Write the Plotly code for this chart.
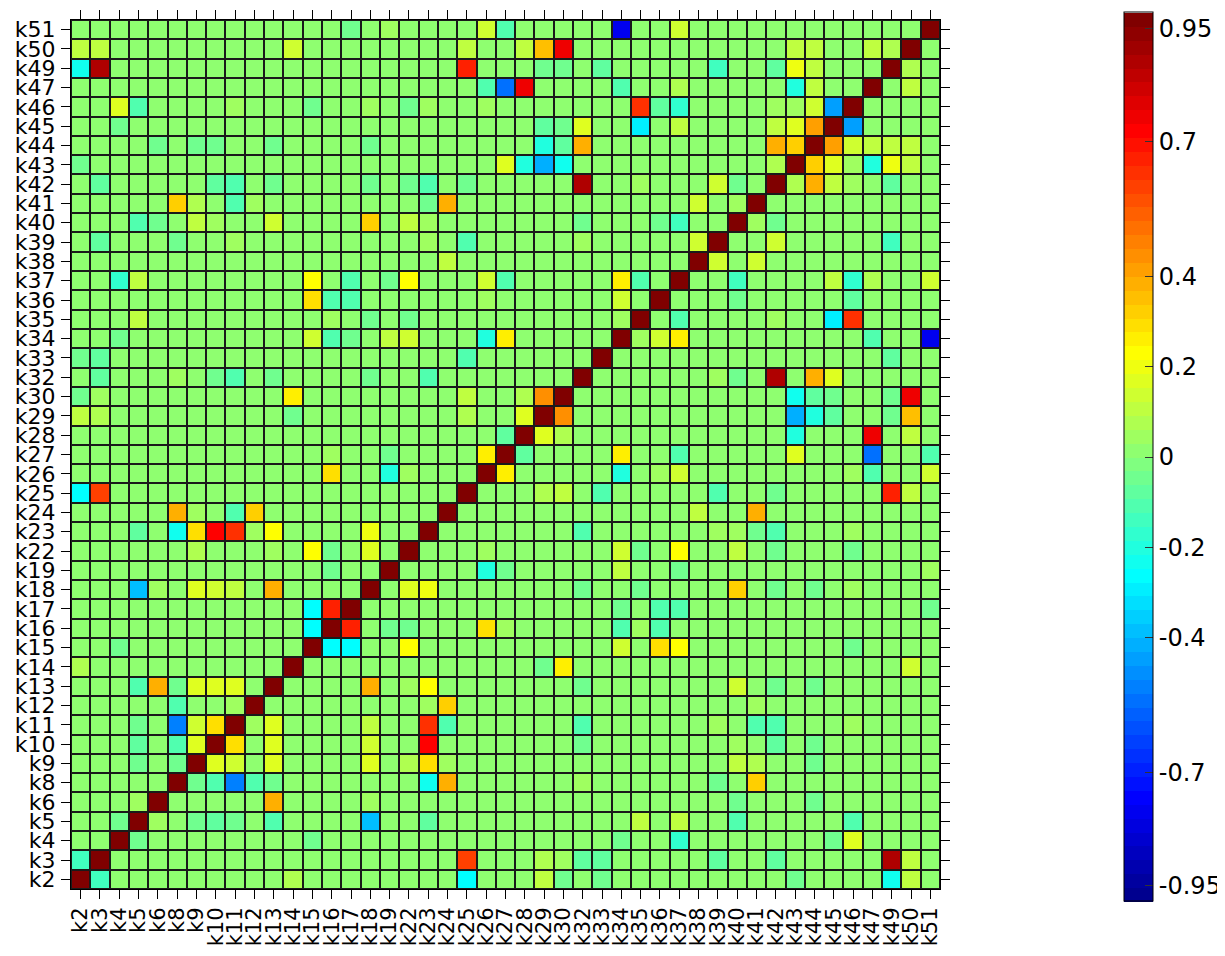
import numpy as np
import plotly.graph_objects as go

labels = ["k2", "k3", "k4", "k5", "k6", "k8", "k9", "k10", "k11", "k12", "k13", "k14",
          "k15", "k16", "k17", "k18", "k19", "k22", "k23", "k24", "k25", "k26", "k27",
          "k28", "k29", "k30", "k32", "k33", "k34", "k35", "k36", "k37", "k38", "k39",
          "k40", "k41", "k42", "k43", "k44", "k45", "k46", "k47", "k49", "k50", "k51"]

# off-diagonal correlations (symmetric); unlisted pairs ~ 0
corr_pairs = [
    ("k2", "k3", -0.15), ("k2", "k14", 0.07), ("k2", "k25", -0.27), ("k2", "k29", 0.12),
    ("k2", "k30", -0.05), ("k2", "k33", -0.05), ("k2", "k43", -0.06), ("k2", "k49", -0.22),
    ("k2", "k50", 0.1),
    ("k3", "k25", 0.6), ("k3", "k29", 0.08), ("k3", "k30", 0.06), ("k3", "k32", -0.08),
    ("k3", "k33", -0.08), ("k3", "k39", -0.08), ("k3", "k42", -0.08), ("k3", "k49", 0.88),
    ("k3", "k50", 0.1),
    ("k4", "k5", -0.06), ("k4", "k15", -0.05), ("k4", "k34", -0.05), ("k4", "k37", -0.18),
    ("k4", "k45", -0.05), ("k4", "k46", 0.18),
    ("k5", "k6", 0.06), ("k5", "k9", -0.05), ("k5", "k10", -0.07), ("k5", "k11", -0.05),
    ("k5", "k13", -0.12), ("k5", "k18", -0.38), ("k5", "k23", -0.08), ("k5", "k35", 0.1),
    ("k5", "k37", 0.1), ("k5", "k40", -0.12), ("k5", "k46", -0.1),
    ("k6", "k13", 0.37), ("k6", "k18", 0.06), ("k6", "k40", -0.05), ("k6", "k44", -0.06),
    ("k8", "k9", -0.06), ("k8", "k10", -0.1), ("k8", "k11", -0.5), ("k8", "k12", -0.1),
    ("k8", "k13", -0.05), ("k8", "k23", -0.23), ("k8", "k24", 0.38), ("k8", "k32", 0.06),
    ("k8", "k39", -0.05), ("k8", "k41", 0.33),
    ("k9", "k10", 0.17), ("k9", "k11", 0.15), ("k9", "k13", 0.18), ("k9", "k18", 0.17),
    ("k9", "k22", 0.07), ("k9", "k23", 0.28), ("k9", "k24", 0.05), ("k9", "k40", 0.12),
    ("k9", "k41", 0.07), ("k9", "k44", -0.06),
    ("k10", "k11", 0.3), ("k10", "k13", 0.18), ("k10", "k18", 0.13), ("k10", "k23", 0.72),
    ("k10", "k32", -0.06), ("k10", "k40", 0.06), ("k10", "k42", -0.07), ("k10", "k44", -0.06),
    ("k11", "k12", 0.06), ("k11", "k13", 0.16), ("k11", "k18", 0.12), ("k11", "k23", 0.63),
    ("k11", "k24", -0.1), ("k11", "k32", -0.1), ("k11", "k39", 0.05), ("k11", "k41", -0.12),
    ("k11", "k42", -0.1), ("k11", "k46", 0.05),
    ("k12", "k23", 0.05), ("k12", "k24", 0.32), ("k12", "k41", 0.06),
    ("k13", "k18", 0.38), ("k13", "k22", 0.06), ("k13", "k23", 0.24), ("k13", "k32", -0.05),
    ("k13", "k40", 0.15), ("k13", "k42", -0.06), ("k13", "k44", -0.06),
    ("k14", "k29", -0.05), ("k14", "k30", 0.25), ("k14", "k50", 0.13),
    ("k15", "k16", -0.25), ("k15", "k17", -0.25), ("k15", "k22", 0.22), ("k15", "k34", 0.14),
    ("k15", "k36", 0.28), ("k15", "k37", 0.24), ("k15", "k46", -0.05),
    ("k16", "k17", 0.67), ("k16", "k19", -0.05), ("k16", "k22", -0.05), ("k16", "k26", 0.3),
    ("k16", "k27", 0.05), ("k16", "k34", -0.1), ("k16", "k35", 0.05), ("k16", "k36", -0.1),
    ("k17", "k34", -0.05), ("k17", "k36", -0.1), ("k17", "k37", -0.1), ("k17", "k51", -0.05),
    ("k18", "k22", 0.16), ("k18", "k23", 0.2), ("k18", "k32", -0.05), ("k18", "k35", -0.06),
    ("k18", "k40", 0.33), ("k18", "k42", -0.05), ("k18", "k44", -0.05), ("k18", "k46", 0.06),
    ("k19", "k26", -0.2), ("k19", "k27", -0.05), ("k19", "k34", 0.1), ("k19", "k37", -0.05),
    ("k19", "k51", 0.05),
    ("k22", "k26", 0.05), ("k22", "k34", 0.15), ("k22", "k35", -0.05), ("k22", "k37", 0.23),
    ("k22", "k40", 0.12), ("k22", "k42", -0.05), ("k22", "k46", -0.05),
    ("k23", "k32", -0.1), ("k23", "k39", 0.05), ("k23", "k40", 0.06), ("k23", "k41", -0.05),
    ("k23", "k42", -0.1), ("k23", "k46", 0.05),
    ("k24", "k38", 0.12), ("k24", "k41", 0.38),
    ("k25", "k29", 0.08), ("k25", "k30", 0.1), ("k25", "k33", -0.1), ("k25", "k39", -0.1),
    ("k25", "k42", -0.05), ("k25", "k49", 0.65), ("k25", "k50", 0.12),
    ("k26", "k27", 0.25), ("k26", "k34", -0.2), ("k26", "k36", 0.05), ("k26", "k37", 0.15),
    ("k26", "k46", 0.05), ("k26", "k47", -0.12), ("k26", "k51", 0.15),
    ("k27", "k28", -0.07), ("k27", "k34", 0.25), ("k27", "k37", -0.12), ("k27", "k43", 0.18),
    ("k27", "k47", -0.55), ("k27", "k51", -0.1),
    ("k28", "k29", 0.18), ("k28", "k30", 0.07), ("k28", "k43", -0.2), ("k28", "k47", 0.75),
    ("k28", "k50", 0.1),
    ("k29", "k30", 0.45), ("k29", "k43", -0.42), ("k29", "k44", -0.2), ("k29", "k45", -0.08),
    ("k29", "k49", -0.05), ("k29", "k50", 0.35),
    ("k30", "k43", -0.23), ("k30", "k44", -0.08), ("k30", "k45", -0.05), ("k30", "k49", -0.05),
    ("k30", "k50", 0.75),
    ("k32", "k39", 0.06), ("k32", "k40", -0.05), ("k32", "k42", 0.87), ("k32", "k44", 0.4),
    ("k32", "k45", 0.18),
    ("k33", "k49", -0.07),
    ("k34", "k35", 0.05), ("k34", "k36", 0.14), ("k34", "k37", 0.25), ("k34", "k47", -0.12),
    ("k34", "k51", -0.8),
    ("k35", "k37", -0.1), ("k35", "k42", 0.06), ("k35", "k45", -0.28), ("k35", "k46", 0.62),
    ("k36", "k40", -0.05), ("k36", "k46", -0.07),
    ("k37", "k40", -0.15), ("k37", "k45", 0.1), ("k37", "k46", -0.18), ("k37", "k47", 0.08),
    ("k37", "k51", 0.14),
    ("k38", "k39", 0.15), ("k38", "k41", 0.14),
    ("k39", "k42", 0.15), ("k39", "k49", -0.14),
    ("k40", "k41", 0.05), ("k40", "k42", -0.05),
    ("k42", "k43", 0.08), ("k42", "k44", 0.38), ("k42", "k45", 0.12), ("k42", "k46", 0.06),
    ("k42", "k49", -0.08),
    ("k43", "k44", 0.32), ("k43", "k45", 0.18), ("k43", "k46", 0.05), ("k43", "k47", -0.2),
    ("k43", "k49", 0.2), ("k43", "k50", 0.1),
    ("k44", "k45", 0.42), ("k44", "k46", 0.14), ("k44", "k47", 0.12), ("k44", "k49", 0.11),
    ("k44", "k50", 0.1),
    ("k45", "k46", -0.45),
    ("k47", "k50", 0.1),
    ("k49", "k50", 0.08),
]

cbar_ticks = [-0.95, -0.7, -0.4, -0.2, 0, 0.2, 0.4, 0.7, 0.95]
cbar_text = ["-0.95", "-0.7", "-0.4", "-0.2", "0", "0.2", "0.4", "0.7", "0.95"]

n = len(labels)
idx = {l: i for i, l in enumerate(labels)}
z = np.eye(n)
for a, b, r in corr_pairs:
    z[idx[a], idx[b]] = r
    z[idx[b], idx[a]] = r


def matlab_jet(m=64):
    n4 = int(np.ceil(m / 4))
    u = np.concatenate([np.arange(1, n4 + 1) / n4, np.ones(n4 - 1), np.arange(n4, 0, -1) / n4])
    g = int(np.ceil(n4 / 2)) - (1 if m % 4 == 1 else 0) + np.arange(1, len(u) + 1)
    r = g + n4
    b = g - n4
    J = np.zeros((m, 3))
    for arr, ch in ((r, 0), (g, 1), (b, 2)):
        mask = (arr >= 1) & (arr <= m)
        J[arr[mask] - 1, ch] = u[mask]
    return J


J = matlab_jet(64)
cs = []
for k in range(64):
    c = "rgb(%d,%d,%d)" % tuple(np.round(J[k] * 255).astype(int))
    cs.append([k / 64, c])
    cs.append([(k + 1) / 64, c])

FONT = "DejaVu Sans"

fig = go.Figure(go.Heatmap(
    z=z, x=labels, y=labels,
    colorscale=cs, zmin=-0.985, zmax=0.985,
    xgap=2, ygap=2,
    colorbar=dict(
        x=(1116 - 63) / 869, xanchor="left", xpad=0,
        y=(881 - 449) / 869, yanchor="middle", ypad=0,
        thickness=29, thicknessmode="pixels",
        len=889, lenmode="pixels",
        outlinewidth=1, outlinecolor="black",
        tickvals=cbar_ticks, ticktext=cbar_text,
        ticks="inside", ticklen=8, tickcolor="#333333",
        tickfont=dict(family=FONT, size=24, color="black"),
    ),
))

axis_common = dict(
    showline=True, linecolor="black", linewidth=1, mirror="ticks",
    ticks="outside", ticklen=9, tickcolor="black", tickwidth=1,
    showgrid=False, zeroline=False, automargin=False,
    tickmode="array", tickvals=labels, ticktext=labels,
)

fig.update_layout(
    width=1225, height=956,
    margin=dict(l=63, r=293, t=12, b=75, autoexpand=False),
    paper_bgcolor="white", plot_bgcolor="#1a1a1a",
    xaxis=dict(**axis_common, tickangle=-90, ticklabelstandoff=0,
               tickfont=dict(family=FONT, size=21, color="black")),
    yaxis=dict(**axis_common, ticklabelstandoff=1,
               tickfont=dict(family=FONT, size=22, color="black")),
)

fig.write_html("out.html")
